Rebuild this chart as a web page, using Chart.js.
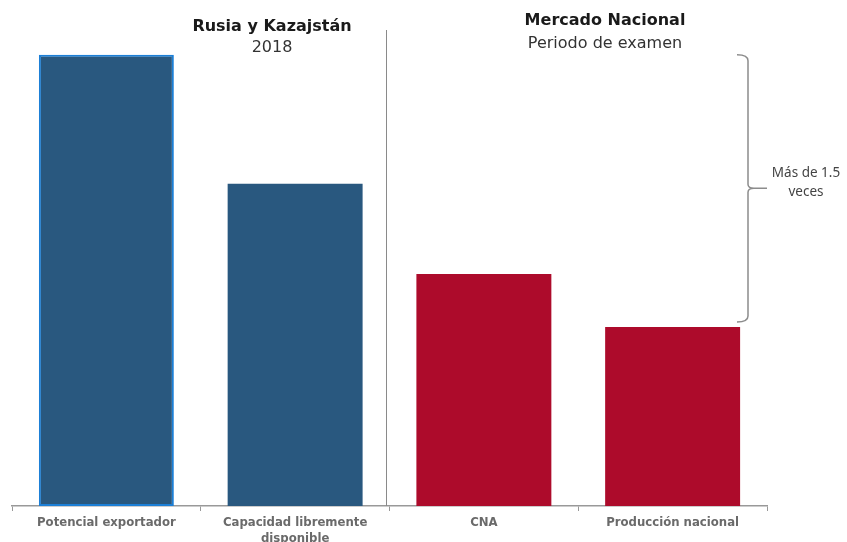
<!DOCTYPE html>
<html>
<head>
<meta charset="utf-8">
<script src="https://cdn.jsdelivr.net/npm/chart.js@4"></script>
<style>
  html, body { margin: 0; padding: 0; background: #fff; }
  #wrap { width: 847px; height: 542px; }
</style>
</head>
<body>
<div id="wrap"><canvas id="barChart" width="847" height="542"></canvas></div>
<script>
const categories = [
  'Potencial exportador',
  ['Capacidad libremente', 'disponible'],
  'CNA',
  'Producción nacional'
];
const values = [100, 71.4, 51.4, 39.7];
const barColors = ['#29587f', '#29587f', '#ad0b2b', '#ad0b2b'];
const groupTitles = [
  { title: 'Rusia y Kazajstán', sub: '2018' },
  { title: 'Mercado Nacional', sub: 'Periodo de examen' }
];
const bracketText = ['Más de 1.5', 'veces'];

const overlay = {
  id: 'overlay',
  afterDraw(chart) {
    const c = chart.ctx;
    const x = chart.scales.x, y = chart.scales.y;
    c.save();

    // divider between the two groups
    const divX = (x.getPixelForValue(1) + x.getPixelForValue(2)) / 2 - 3;
    c.strokeStyle = '#8a8a8a';
    c.lineWidth = 1;
    c.beginPath();
    c.moveTo(divX, 30);
    c.lineTo(divX, chart.chartArea.bottom);
    c.stroke();

    // group titles
    c.fillStyle = '#1a1a1a';
    c.textAlign = 'center';
    c.textBaseline = 'middle';
    c.font = 'bold 16px "DejaVu Sans"';
    c.fillText(groupTitles[0].title, 272, 27);
    c.fillText(groupTitles[1].title, 605, 21);
    c.font = '16px "DejaVu Sans"';
    c.fillStyle = '#333';
    c.fillText(groupTitles[0].sub, 272, 48);
    c.fillText(groupTitles[1].sub, 605, 44);

    // bracket from first bar top down to just above the last bar
    const top = y.getPixelForValue(values[0]);
    const bot = y.getPixelForValue(values[3]) - 5;
    const mid = (top + bot) / 2;
    const bx = 748;
    c.strokeStyle = '#8c8c8c';
    c.lineWidth = 1.5;
    c.beginPath();
    c.moveTo(737, top);
    c.quadraticCurveTo(bx, top, bx, top + 6);
    c.lineTo(bx, mid - 4);
    c.quadraticCurveTo(bx, mid, bx + 6, mid);
    c.lineTo(767, mid);
    c.moveTo(bx + 6, mid);
    c.quadraticCurveTo(bx, mid, bx, mid + 4);
    c.lineTo(bx, bot - 6);
    c.quadraticCurveTo(bx, bot, 737, bot);
    c.stroke();

    c.fillStyle = '#444';
    c.font = '13.5px "Noto Sans"';
    c.fillText(bracketText[0], 806, 173);
    c.fillText(bracketText[1], 806, 192);
    c.restore();
  }
};

new Chart(document.getElementById('barChart').getContext('2d'), {
  type: 'bar',
  data: {
    labels: categories,
    datasets: [{
      data: values,
      backgroundColor: barColors,
      borderColor: ['#1c7fd6', 'rgba(0,0,0,0)', 'rgba(0,0,0,0)', 'rgba(0,0,0,0)'],
      borderWidth: [2, 0, 0, 0],
      borderSkipped: false,
      categoryPercentage: 1,
      barPercentage: 0.715
    }]
  },
  options: {
    responsive: false,
    animation: false,
    layout: { padding: { top: 30, left: 12, right: 80, bottom: 0 } },
    plugins: { legend: { display: false }, tooltip: { enabled: false } },
    scales: {
      x: {
        afterFit(scale) { scale.height = 36; },
        grid: { display: true, drawOnChartArea: false, offset: true, tickLength: 5, color: '#999' },
        border: { display: true, color: '#999', width: 1.5 },
        ticks: {
          color: '#6a6a6a',
          padding: 3,
          maxRotation: 0,
          autoSkip: false,
          font: { family: '"DejaVu Sans Condensed", "DejaVu Sans"', size: 13, weight: 'bold', lineHeight: 1.25 }
        }
      },
      y: {
        display: false,
        min: 0,
        max: 105.5
      }
    }
  },
  plugins: [overlay]
});
</script>
</body>
</html>
